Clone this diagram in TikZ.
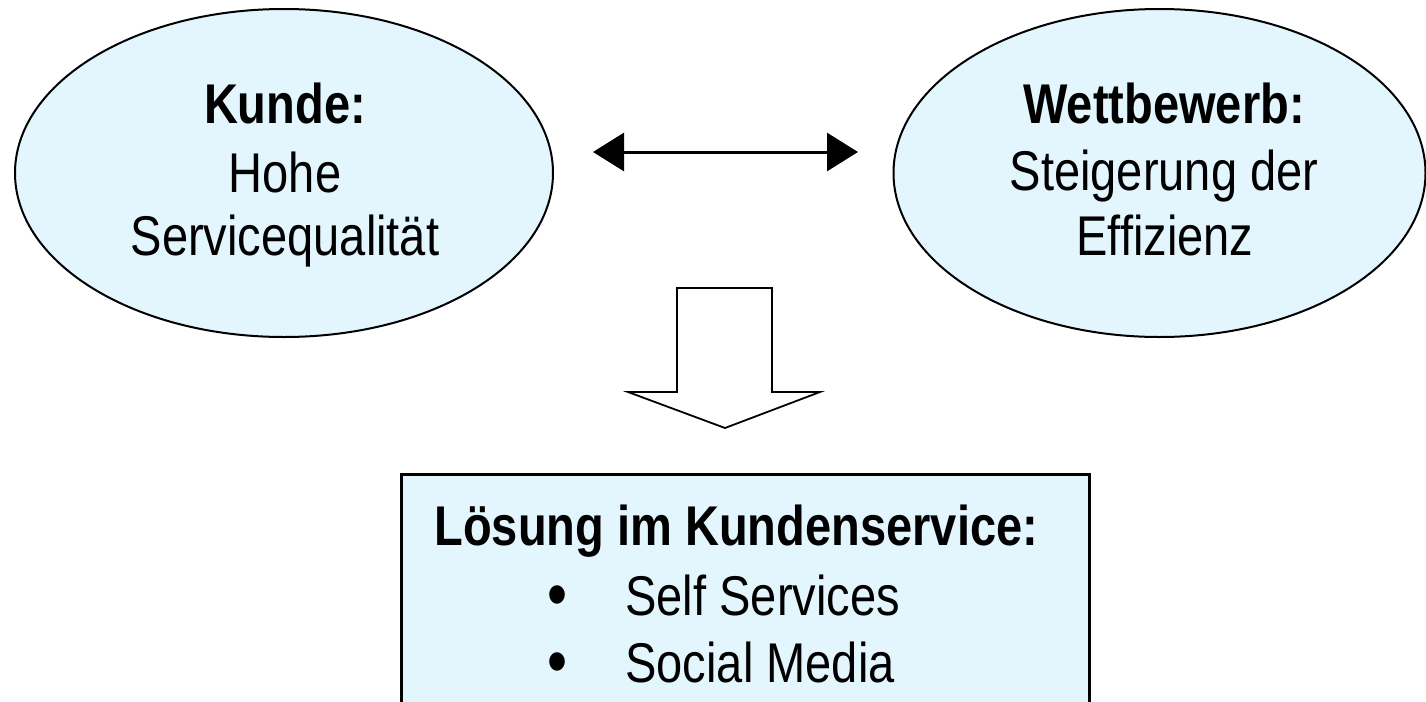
\documentclass[tikz,border=0pt]{standalone}
\usepackage{fontspec}
\setmainfont{Liberation Sans}[FakeStretch=0.84]
\usetikzlibrary{arrows.meta,shapes.geometric}
\definecolor{paleblue}{RGB}{228,246,253}
\tikzset{
  ell/.style={ellipse, draw=black, line width=1pt, fill=paleblue, inner sep=0pt},
  txt/.style={inner sep=0pt, font=\fontsize{28}{34}\selectfont, anchor=base},
  btxt/.style={txt, font=\fontsize{28}{34}\selectfont\bfseries},
  bullettxt/.style={inner sep=0pt, font=\fontsize{34}{40}\selectfont, anchor=base},
  dblarrow/.style={line width=1.5pt, {Triangle[length=15.5pt,width=19pt]}-{Triangle[length=15.5pt,width=19pt]}},
  blockarrow/.style={draw=black, line width=0.9pt, fill=white, line join=miter},
  solbox/.style={draw=black, line width=1.5pt, fill=paleblue, inner sep=0pt}
}
\begin{document}
\begin{tikzpicture}[x=0.5pt,y=-0.5pt]
\useasboundingbox (0,0) rectangle (1426,702);
\clip (0,0) rectangle (1426,702);
% ellipses
\node[ell, minimum width=269pt, minimum height=164pt] (kunde) at (284,173) {};
\node[ell, minimum width=266pt, minimum height=164pt] (wett) at (1159.5,173) {};
\node[btxt] (kunde1) at (285,123) {Kunde:};
\node[txt] (kunde2) at (285,192) {Hohe};
\node[txt] (kunde3) at (285,255) {Servicequalität};
\node[btxt] (wett1) at (1164,123) {Wettbewerb:};
\node[txt] (wett2) at (1164,190) {Steigerung der};
\node[txt] (wett3) at (1165,255) {Effizienz};
% double arrow
\coordinate (al) at (593,152);
\coordinate (ar) at (858,152);
\draw[dblarrow] (al) -- (ar);
% block arrow
\coordinate (b1) at (677,288);
\coordinate (b2) at (772,288);
\coordinate (b3) at (772,392);
\coordinate (b4) at (820,392);
\coordinate (b5) at (725,428);
\coordinate (b6) at (628,392);
\coordinate (b7) at (677,392);
\draw[blockarrow] (b1) -- (b2) -- (b3) -- (b4) -- (b5) -- (b6) -- (b7) -- cycle;
% solution box
\node[solbox, anchor=north west, minimum width=344pt, minimum height=150pt] (loesung) at (400,473) {};
\node[btxt, anchor=base west] (l1) at (434,545) {Lösung im Kundenservice:};
\node[bullettxt] (bul1) at (557,617) {\textbullet};
\node[txt, anchor=base west] (l2) at (625,615) {Self Services};
\node[bullettxt] (bul2) at (557,684) {\textbullet};
\node[txt, anchor=base west] (l3) at (625,682) {Social Media};
\end{tikzpicture}
\end{document}
